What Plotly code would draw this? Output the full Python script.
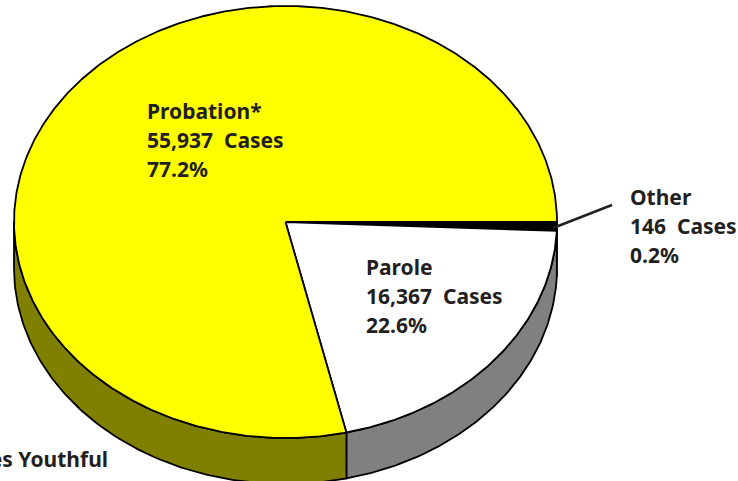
import numpy as np
import plotly.graph_objects as go

# Printed labels
categories = ["Other", "Parole", "Probation*"]
cases = ["146", "16,367", "55,937"]
percent_labels = ["0.2%", "22.6%", "77.2%"]
# Slice shares (percent of the circle)
drawn_shares = [0.65, 20.75, 78.6]

top_colors = ["#000000", "#ffffff", "#ffff00"]
side_colors = ["#000000", "#808080", "#808000"]
INK = "#231f20"

CX, CY, RX, RY, DEPTH = 285.5, 222.0, 271.5, 216.0, 46.0


def rim(a, dy=0.0):
    return CX + RX * np.cos(a), CY + dy + RY * np.sin(a)


fig = go.Figure()
edges = np.cumsum([0.0] + drawn_shares) / 100 * 2 * np.pi
outline = dict(color="#000000", width=1.8)

# Side wall (front half only)
for start, end, col in zip(edges[:-1], edges[1:], side_colors):
    end = min(end, np.pi)
    if end <= start:
        continue
    a = np.linspace(start, end, 120)
    x1, y1 = rim(a)
    x2, y2 = rim(a[::-1], DEPTH)
    fig.add_trace(go.Scatter(x=np.r_[x1, x2, x1[0]], y=np.r_[y1, y2, y1[0]],
                             mode="lines", fill="toself", fillcolor=col, line=outline,
                             hoverinfo="skip", showlegend=False))

# Top face
for start, end, col in zip(edges[:-1], edges[1:], top_colors):
    a = np.linspace(start, end, max(8, int((end - start) * 120)))
    x1, y1 = rim(a)
    fig.add_trace(go.Scatter(x=np.r_[CX, x1, CX], y=np.r_[CY, y1, CY],
                             mode="lines", fill="toself", fillcolor=col, line=outline,
                             hoverinfo="skip", showlegend=False))

# Leader line for Other
fig.add_trace(go.Scatter(x=[553, 612], y=[228, 205], mode="lines",
                         line=dict(color=INK, width=2.5), hoverinfo="skip", showlegend=False))


def label(text, x, y, anchor="left"):
    fig.add_annotation(x=x, y=y, text=f"<b>{text}</b>", showarrow=False, xanchor=anchor,
                       yanchor="middle", align=anchor, xref="x", yref="y",
                       font=dict(family="Noto Sans", size=21, color=INK, weight="bold"))


gap = "\u00a0\u00a0"
positions = [(628, 198), (364, 268), (145, 112)]
for c, n, p, (x, y) in zip(categories, cases, percent_labels, positions):
    label(c, x, y - 1)
    label(f"{n}{gap}Cases", x, y + 28)
    label(p, x, y + 57)
label("Includes Youthful", 110, 459, "right")

fig.update_layout(
    width=738, height=481, margin=dict(l=0, r=0, t=0, b=0),
    paper_bgcolor="#ffffff", plot_bgcolor="#ffffff",
    xaxis=dict(range=[0, 738], visible=False, fixedrange=True),
    yaxis=dict(range=[481, 0], visible=False, fixedrange=True),
)
fig.write_html("out.html", config={"displayModeBar": False},
               post_script="document.body.style.margin='0';")
